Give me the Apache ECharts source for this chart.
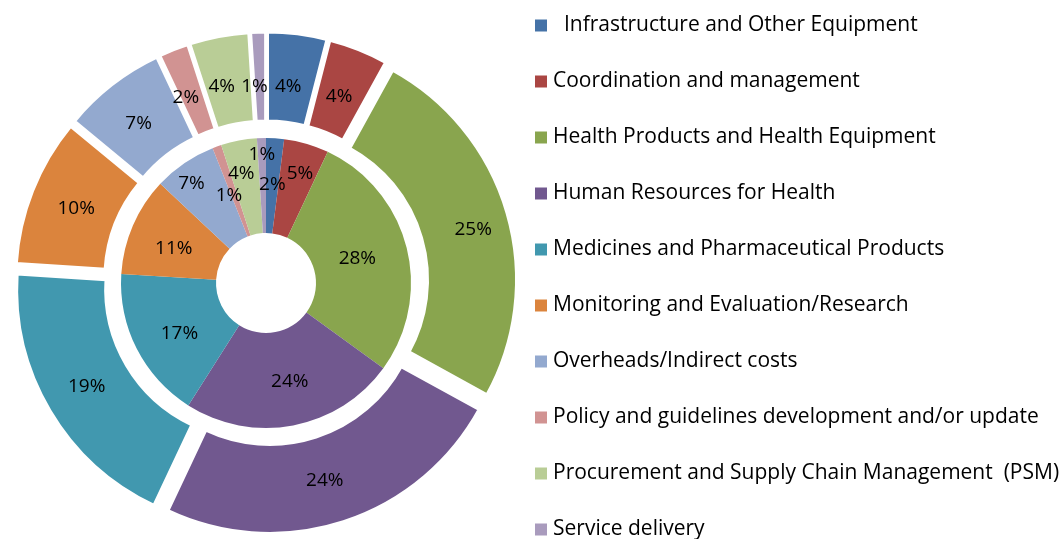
<!DOCTYPE html>
<html>
<head>
<meta charset="utf-8">
<script src="https://cdn.jsdelivr.net/npm/echarts@6/dist/echarts.min.js"></script>
<style>
  html, body { margin: 0; padding: 0; background: #fff; }
  #chart { width: 1062px; height: 539px; }
</style>
</head>
<body>
<div id="chart"></div>
<script>
// categories and the two rings (inner / outer), in percent
const categories = [
  'Infrastructure and Other Equipment',
  'Coordination and management',
  'Health Products and Health Equipment',
  'Human Resources for Health',
  'Medicines and Pharmaceutical Products',
  'Monitoring and Evaluation/Research',
  'Overheads/Indirect costs',
  'Policy and guidelines development and/or update',
  'Procurement and Supply Chain Management  (PSM)',
  'Service delivery'
]
const innerValues = [2, 5, 28, 24, 17, 11, 7, 1, 4, 1]
const outerValues = [4, 4, 25, 24, 19, 10, 7, 2, 4, 1]

const colors = ['#4572A7', '#AA4643', '#89A54E', '#71588F', '#4198AF',
  '#DB843D', '#93A9CF', '#D19392', '#B9CD96', '#A99BBD']

const fontName = '"Open Sans", sans-serif'
const center = [266, 283]

// label nudges so the labels sit where the original put them
const innerLabelOffsets = [[0, 2], [6, -13], [-6, 1], [5, 0], [3, 5],
  [0, 6], [-18, -16], [-3, 7], [-6, -11], [-1, -28]]
const outerLabelOffsets = [[-4, 11], [-4, 8], [6, 5], [-6, -2], [1, -3],
  [5, 3], [1, 6], [-3, 9], [-5, 9], [-5, 13]]

const chart = echarts.init(document.getElementById('chart'))

const labelStyle = {
  show: true,
  position: 'inside',
  formatter: '{c}%',
  fontFamily: fontName,
  fontSize: 19,
  color: '#000'
}

const option = {
  color: colors,
  animation: false,
  legend: {
    orient: 'vertical',
    left: 535,
    top: 15,
    height: 560,
    padding: 0,
    itemWidth: 12,
    itemHeight: 12,
    itemGap: 35,
    icon: 'rect',
    data: categories,
    formatter: name => (name === categories[0] ? '  ' + name : name),
    textStyle: {
      fontFamily: fontName,
      fontSize: 21,
      lineHeight: 20,
      color: '#000',
      padding: [0, 0, 0, 1]
    }
  },
  series: [
    {
      name: 'inner',
      type: 'pie',
      center: center,
      radius: [50, 145],
      startAngle: 90,
      clockwise: true,
      avoidLabelOverlap: false,
      labelLayout: { hideOverlap: false },
      label: labelStyle,
      labelLine: { show: false },
      itemStyle: { borderWidth: 0 },
      emphasis: { disabled: true },
      data: innerValues.map((v, i) => ({
        name: categories[i],
        value: v,
        label: { offset: innerLabelOffsets[i] }
      }))
    },
    {
      name: 'outer',
      type: 'pie',
      center: center,
      radius: [150, 239],
      startAngle: 90,
      clockwise: true,
      selectedMode: 'multiple',
      selectedOffset: 12,
      avoidLabelOverlap: false,
      labelLayout: { hideOverlap: false },
      label: labelStyle,
      labelLine: { show: false },
      itemStyle: { borderColor: '#fff', borderWidth: 3 },
      emphasis: { disabled: true },
      select: { itemStyle: { borderColor: '#fff', borderWidth: 3 } },
      data: outerValues.map((v, i) => ({
        name: categories[i],
        value: v,
        selected: true,
        label: { offset: outerLabelOffsets[i] },
        select: { label: { offset: outerLabelOffsets[i] } }
      }))
    }
  ]
}

chart.setOption(option)
</script>
</body>
</html>
